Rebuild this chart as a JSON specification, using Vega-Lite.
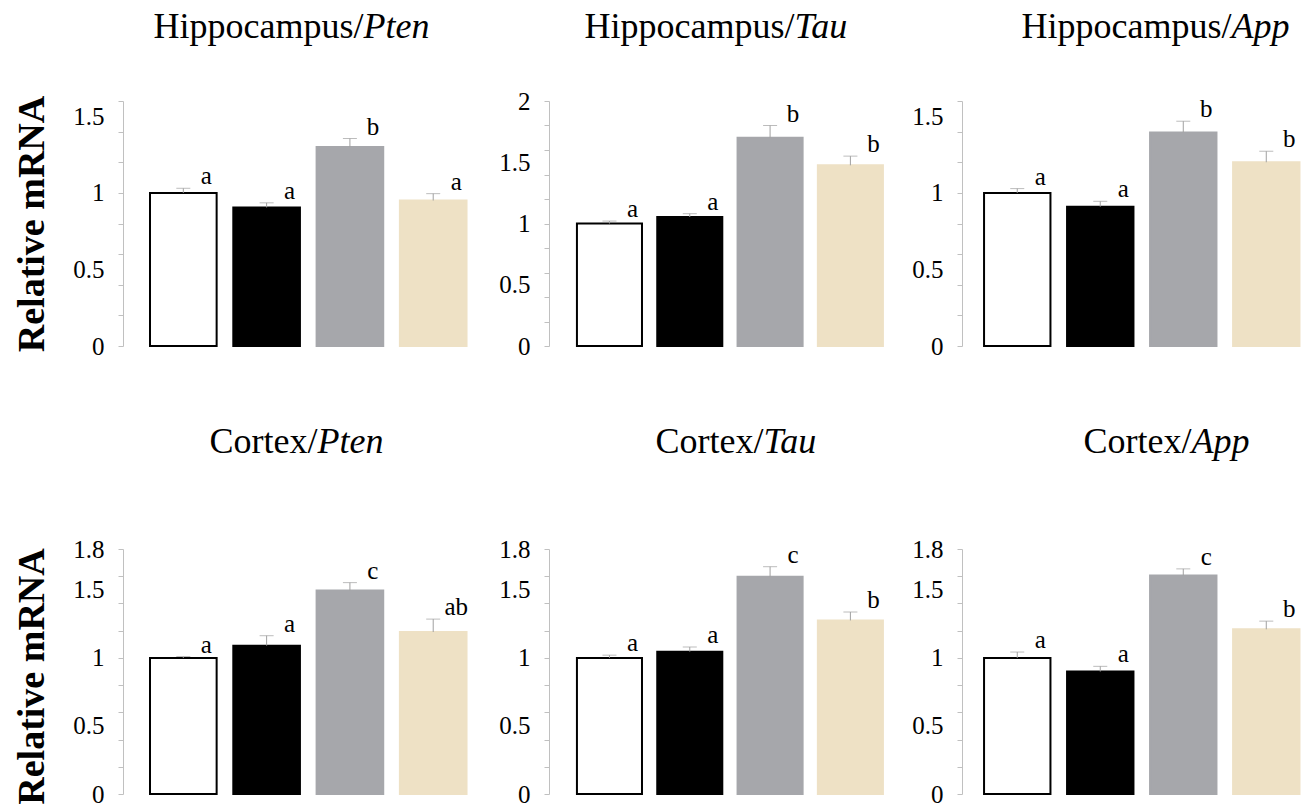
{
  "$schema": "https://vega.github.io/schema/vega-lite/v6.json",
  "background": "white",
  "padding": {"left": 12, "top": 8, "right": 0, "bottom": 0},
  "config": {
    "view": {"stroke": null},
    "axis": {"grid": false}
  },
  "data": {"values": [
    {"region": "Hippocampus", "gene": "Pten", "group": "G1", "value": 1.0, "upper": 1.03, "sig": "a"},
    {"region": "Hippocampus", "gene": "Pten", "group": "G2", "value": 0.905, "upper": 0.935, "sig": "a"},
    {"region": "Hippocampus", "gene": "Pten", "group": "G3", "value": 1.3, "upper": 1.355, "sig": "b"},
    {"region": "Hippocampus", "gene": "Pten", "group": "G4", "value": 0.95, "upper": 0.995, "sig": "a"},
    {"region": "Hippocampus", "gene": "Tau", "group": "G1", "value": 1.0, "upper": 1.02, "sig": "a"},
    {"region": "Hippocampus", "gene": "Tau", "group": "G2", "value": 1.053, "upper": 1.08, "sig": "a"},
    {"region": "Hippocampus", "gene": "Tau", "group": "G3", "value": 1.7, "upper": 1.8, "sig": "b"},
    {"region": "Hippocampus", "gene": "Tau", "group": "G4", "value": 1.475, "upper": 1.55, "sig": "b"},
    {"region": "Hippocampus", "gene": "App", "group": "G1", "value": 1.0, "upper": 1.028, "sig": "a"},
    {"region": "Hippocampus", "gene": "App", "group": "G2", "value": 0.91, "upper": 0.945, "sig": "a"},
    {"region": "Hippocampus", "gene": "App", "group": "G3", "value": 1.395, "upper": 1.468, "sig": "b"},
    {"region": "Hippocampus", "gene": "App", "group": "G4", "value": 1.2, "upper": 1.272, "sig": "b"},
    {"region": "Cortex", "gene": "Pten", "group": "G1", "value": 1.0, "upper": 1.01, "sig": "a"},
    {"region": "Cortex", "gene": "Pten", "group": "G2", "value": 1.09, "upper": 1.163, "sig": "a"},
    {"region": "Cortex", "gene": "Pten", "group": "G3", "value": 1.495, "upper": 1.553, "sig": "c"},
    {"region": "Cortex", "gene": "Pten", "group": "G4", "value": 1.19, "upper": 1.285, "sig": "ab"},
    {"region": "Cortex", "gene": "Tau", "group": "G1", "value": 1.0, "upper": 1.02, "sig": "a"},
    {"region": "Cortex", "gene": "Tau", "group": "G2", "value": 1.046, "upper": 1.08, "sig": "a"},
    {"region": "Cortex", "gene": "Tau", "group": "G3", "value": 1.597, "upper": 1.67, "sig": "c"},
    {"region": "Cortex", "gene": "Tau", "group": "G4", "value": 1.275, "upper": 1.337, "sig": "b"},
    {"region": "Cortex", "gene": "App", "group": "G1", "value": 1.0, "upper": 1.043, "sig": "a"},
    {"region": "Cortex", "gene": "App", "group": "G2", "value": 0.9, "upper": 0.938, "sig": "a"},
    {"region": "Cortex", "gene": "App", "group": "G3", "value": 1.605, "upper": 1.654, "sig": "c"},
    {"region": "Cortex", "gene": "App", "group": "G4", "value": 1.21, "upper": 1.27, "sig": "b"}
  ]},
  "columns": 3,
  "align": "each",
  "bounds": "flush",
  "spacing": {"row": 203, "column": 50},
  "concat": [
    {
      "width": 376, "height": 245,
      "transform": [{"filter": "datum.region === 'Hippocampus' && datum.gene === 'Pten'"}],
      "layer": [
        {
          "mark": {"type": "bar", "strokeWidth": 2},
          "encoding": {
            "x": {"field": "group", "type": "nominal", "sort": null, "scale": {"paddingInner": 0.2, "paddingOuter": 0.357, "align": 0.454},
              "axis": {"orient": "top", "domain": false, "ticks": false, "labels": false, "title": "Hippocampus/", "titleFont": "Liberation Serif", "titleFontSize": 36, "titleFontWeight": "normal", "titleColor": "#000000", "titleAlign": "right", "titleX": 240, "titleY": -64, "titleBaseline": "alphabetic"}},
            "y": {"field": "value", "type": "quantitative", "scale": {"domain": [0, 1.6], "nice": false, "zero": true},
              "axis": {"orient": "left", "values": [0, 0.5, 1, 1.5], "format": "~g", "domain": false, "ticks": false, "tickSize": 0, "labelFont": "Liberation Serif", "labelFontSize": 25, "labelColor": "#000000", "labelPadding": 19, "title": "Relative mRNA", "titleFont": "Liberation Serif", "titleFontSize": 38, "titleFontWeight": "bold", "titleColor": "#000000", "titleX": -80, "titleBaseline": "alphabetic", "titleAngle": -90}},
            "fill": {"field": "group", "type": "nominal", "scale": {"domain": ["G1", "G2", "G3", "G4"], "range": ["#ffffff", "#000000", "#a6a7ab", "#eee1c5"]}, "legend": null},
            "stroke": {"field": "group", "type": "nominal", "scale": {"domain": ["G1", "G2", "G3", "G4"], "range": ["#000000", "#000000", "#a6a7ab", "#eee1c5"]}, "legend": null}
          }
        },
        {
          "mark": {"type": "rule", "color": "#a0a0a0", "strokeWidth": 1},
          "encoding": {
            "x": {"field": "group", "type": "nominal", "sort": null,
              "axis": {"orient": "top", "domain": false, "ticks": false, "labels": false, "title": "Pten", "titleFont": "Liberation Serif", "titleFontSize": 36, "titleFontWeight": "normal", "titleFontStyle": "italic", "titleColor": "#000000", "titleAlign": "left", "titleX": 240, "titleY": -64, "titleBaseline": "alphabetic"}},
            "y": {"field": "value", "type": "quantitative",
              "axis": {"orient": "left", "values": [0, 0.2, 0.4, 0.6, 0.8, 1, 1.2, 1.4, 1.6], "labels": false, "domain": true, "domainColor": "#c0c0c0", "ticks": true, "tickColor": "#c0c0c0", "tickSize": 5, "title": null}},
            "y2": {"field": "upper"}
          }
        },
        {
          "mark": {"type": "tick", "orient": "horizontal", "size": 14, "thickness": 1, "color": "#a0a0a0"},
          "encoding": {
            "x": {"field": "group", "type": "nominal", "sort": null, "axis": null},
            "y": {"field": "upper", "type": "quantitative", "axis": null}
          }
        },
        {
          "mark": {"type": "text", "font": "Liberation Serif", "fontSize": 25, "dx": 23, "dy": -4, "baseline": "alphabetic", "align": "center", "color": "#000000"},
          "encoding": {
            "x": {"field": "group", "type": "nominal", "sort": null, "axis": null},
            "y": {"field": "upper", "type": "quantitative", "axis": null},
            "text": {"field": "sig"}
          }
        }
      ],
      "resolve": {"axis": {"x": "independent", "y": "independent"}}
    },
    {
      "width": 363, "height": 245,
      "transform": [{"filter": "datum.region === 'Hippocampus' && datum.gene === 'Tau'"}],
      "layer": [
        {
          "mark": {"type": "bar", "strokeWidth": 2},
          "encoding": {
            "x": {"field": "group", "type": "nominal", "sort": null, "scale": {"paddingInner": 0.19, "paddingOuter": 0.355, "align": 0.49},
              "axis": {"orient": "top", "domain": false, "ticks": false, "labels": false, "title": "Hippocampus/", "titleFont": "Liberation Serif", "titleFontSize": 36, "titleFontWeight": "normal", "titleColor": "#000000", "titleAlign": "right", "titleX": 245, "titleY": -64, "titleBaseline": "alphabetic"}},
            "y": {"field": "value", "type": "quantitative", "scale": {"domain": [0, 2], "nice": false, "zero": true},
              "axis": {"orient": "left", "values": [0, 0.5, 1, 1.5, 2], "format": "~g", "domain": false, "ticks": false, "tickSize": 0, "labelFont": "Liberation Serif", "labelFontSize": 25, "labelColor": "#000000", "labelPadding": 19, "title": null}},
            "fill": {"field": "group", "type": "nominal", "scale": {"domain": ["G1", "G2", "G3", "G4"], "range": ["#ffffff", "#000000", "#a6a7ab", "#eee1c5"]}, "legend": null},
            "stroke": {"field": "group", "type": "nominal", "scale": {"domain": ["G1", "G2", "G3", "G4"], "range": ["#000000", "#000000", "#a6a7ab", "#eee1c5"]}, "legend": null}
          }
        },
        {
          "mark": {"type": "rule", "color": "#a0a0a0", "strokeWidth": 1},
          "encoding": {
            "x": {"field": "group", "type": "nominal", "sort": null,
              "axis": {"orient": "top", "domain": false, "ticks": false, "labels": false, "title": "Tau", "titleFont": "Liberation Serif", "titleFontSize": 36, "titleFontWeight": "normal", "titleFontStyle": "italic", "titleColor": "#000000", "titleAlign": "left", "titleX": 245, "titleY": -64, "titleBaseline": "alphabetic"}},
            "y": {"field": "value", "type": "quantitative",
              "axis": {"orient": "left", "values": [0, 0.2, 0.4, 0.6, 0.8, 1, 1.2, 1.4, 1.6, 1.8, 2], "labels": false, "domain": true, "domainColor": "#c0c0c0", "ticks": true, "tickColor": "#c0c0c0", "tickSize": 5, "title": null}},
            "y2": {"field": "upper"}
          }
        },
        {
          "mark": {"type": "tick", "orient": "horizontal", "size": 14, "thickness": 1, "color": "#a0a0a0"},
          "encoding": {
            "x": {"field": "group", "type": "nominal", "sort": null, "axis": null},
            "y": {"field": "upper", "type": "quantitative", "axis": null}
          }
        },
        {
          "mark": {"type": "text", "font": "Liberation Serif", "fontSize": 25, "dx": 23, "dy": -4, "baseline": "alphabetic", "align": "center", "color": "#000000"},
          "encoding": {
            "x": {"field": "group", "type": "nominal", "sort": null, "axis": null},
            "y": {"field": "upper", "type": "quantitative", "axis": null},
            "text": {"field": "sig"}
          }
        }
      ],
      "resolve": {"axis": {"x": "independent", "y": "independent"}}
    },
    {
      "width": 342, "height": 245,
      "transform": [{"filter": "datum.region === 'Hippocampus' && datum.gene === 'App'"}],
      "layer": [
        {
          "mark": {"type": "bar", "strokeWidth": 2},
          "encoding": {
            "x": {"field": "group", "type": "nominal", "sort": null, "scale": {"paddingInner": 0.2, "paddingOuter": 0.16, "align": 0.83},
              "axis": {"orient": "top", "domain": false, "ticks": false, "labels": false, "title": "Hippocampus/", "titleFont": "Liberation Serif", "titleFontSize": 36, "titleFontWeight": "normal", "titleColor": "#000000", "titleAlign": "right", "titleX": 269, "titleY": -64, "titleBaseline": "alphabetic"}},
            "y": {"field": "value", "type": "quantitative", "scale": {"domain": [0, 1.6], "nice": false, "zero": true},
              "axis": {"orient": "left", "values": [0, 0.5, 1, 1.5], "format": "~g", "domain": false, "ticks": false, "tickSize": 0, "labelFont": "Liberation Serif", "labelFontSize": 25, "labelColor": "#000000", "labelPadding": 19, "title": null}},
            "fill": {"field": "group", "type": "nominal", "scale": {"domain": ["G1", "G2", "G3", "G4"], "range": ["#ffffff", "#000000", "#a6a7ab", "#eee1c5"]}, "legend": null},
            "stroke": {"field": "group", "type": "nominal", "scale": {"domain": ["G1", "G2", "G3", "G4"], "range": ["#000000", "#000000", "#a6a7ab", "#eee1c5"]}, "legend": null}
          }
        },
        {
          "mark": {"type": "rule", "color": "#a0a0a0", "strokeWidth": 1},
          "encoding": {
            "x": {"field": "group", "type": "nominal", "sort": null,
              "axis": {"orient": "top", "domain": false, "ticks": false, "labels": false, "title": "App", "titleFont": "Liberation Serif", "titleFontSize": 36, "titleFontWeight": "normal", "titleFontStyle": "italic", "titleColor": "#000000", "titleAlign": "left", "titleX": 269, "titleY": -64, "titleBaseline": "alphabetic"}},
            "y": {"field": "value", "type": "quantitative",
              "axis": {"orient": "left", "values": [0, 0.2, 0.4, 0.6, 0.8, 1, 1.2, 1.4, 1.6], "labels": false, "domain": true, "domainColor": "#c0c0c0", "ticks": true, "tickColor": "#c0c0c0", "tickSize": 5, "title": null}},
            "y2": {"field": "upper"}
          }
        },
        {
          "mark": {"type": "tick", "orient": "horizontal", "size": 14, "thickness": 1, "color": "#a0a0a0"},
          "encoding": {
            "x": {"field": "group", "type": "nominal", "sort": null, "axis": null},
            "y": {"field": "upper", "type": "quantitative", "axis": null}
          }
        },
        {
          "mark": {"type": "text", "font": "Liberation Serif", "fontSize": 25, "dx": 23, "dy": -4, "baseline": "alphabetic", "align": "center", "color": "#000000"},
          "encoding": {
            "x": {"field": "group", "type": "nominal", "sort": null, "axis": null},
            "y": {"field": "upper", "type": "quantitative", "axis": null},
            "text": {"field": "sig"}
          }
        }
      ],
      "resolve": {"axis": {"x": "independent", "y": "independent"}}
    },
    {
      "width": 376, "height": 245,
      "transform": [{"filter": "datum.region === 'Cortex' && datum.gene === 'Pten'"}],
      "layer": [
        {
          "mark": {"type": "bar", "strokeWidth": 2},
          "encoding": {
            "x": {"field": "group", "type": "nominal", "sort": null, "scale": {"paddingInner": 0.2, "paddingOuter": 0.357, "align": 0.454},
              "axis": {"orient": "top", "domain": false, "ticks": false, "labels": false, "title": "Cortex/", "titleFont": "Liberation Serif", "titleFontSize": 36, "titleFontWeight": "normal", "titleColor": "#000000", "titleAlign": "right", "titleX": 194, "titleY": -97, "titleBaseline": "alphabetic"}},
            "y": {"field": "value", "type": "quantitative", "scale": {"domain": [0, 1.8], "nice": false, "zero": true},
              "axis": {"orient": "left", "values": [0, 0.5, 1, 1.5, 1.8], "format": "~g", "domain": false, "ticks": false, "tickSize": 0, "labelFont": "Liberation Serif", "labelFontSize": 25, "labelColor": "#000000", "labelPadding": 19, "title": "Relative mRNA", "titleFont": "Liberation Serif", "titleFontSize": 38, "titleFontWeight": "bold", "titleColor": "#000000", "titleX": -80, "titleY": 127, "titleBaseline": "alphabetic", "titleAngle": -90}},
            "fill": {"field": "group", "type": "nominal", "scale": {"domain": ["G1", "G2", "G3", "G4"], "range": ["#ffffff", "#000000", "#a6a7ab", "#eee1c5"]}, "legend": null},
            "stroke": {"field": "group", "type": "nominal", "scale": {"domain": ["G1", "G2", "G3", "G4"], "range": ["#000000", "#000000", "#a6a7ab", "#eee1c5"]}, "legend": null}
          }
        },
        {
          "mark": {"type": "rule", "color": "#a0a0a0", "strokeWidth": 1},
          "encoding": {
            "x": {"field": "group", "type": "nominal", "sort": null,
              "axis": {"orient": "top", "domain": false, "ticks": false, "labels": false, "title": "Pten", "titleFont": "Liberation Serif", "titleFontSize": 36, "titleFontWeight": "normal", "titleFontStyle": "italic", "titleColor": "#000000", "titleAlign": "left", "titleX": 194, "titleY": -97, "titleBaseline": "alphabetic"}},
            "y": {"field": "value", "type": "quantitative",
              "axis": {"orient": "left", "values": [0, 0.2, 0.4, 0.6, 0.8, 1, 1.2, 1.4, 1.6, 1.8], "labels": false, "domain": true, "domainColor": "#c0c0c0", "ticks": true, "tickColor": "#c0c0c0", "tickSize": 5, "title": null}},
            "y2": {"field": "upper"}
          }
        },
        {
          "mark": {"type": "tick", "orient": "horizontal", "size": 14, "thickness": 1, "color": "#a0a0a0"},
          "encoding": {
            "x": {"field": "group", "type": "nominal", "sort": null, "axis": null},
            "y": {"field": "upper", "type": "quantitative", "axis": null}
          }
        },
        {
          "mark": {"type": "text", "font": "Liberation Serif", "fontSize": 25, "dx": 23, "dy": -4, "baseline": "alphabetic", "align": "center", "color": "#000000"},
          "encoding": {
            "x": {"field": "group", "type": "nominal", "sort": null, "axis": null},
            "y": {"field": "upper", "type": "quantitative", "axis": null},
            "text": {"field": "sig"}
          }
        }
      ],
      "resolve": {"axis": {"x": "independent", "y": "independent"}}
    },
    {
      "width": 363, "height": 245,
      "transform": [{"filter": "datum.region === 'Cortex' && datum.gene === 'Tau'"}],
      "layer": [
        {
          "mark": {"type": "bar", "strokeWidth": 2},
          "encoding": {
            "x": {"field": "group", "type": "nominal", "sort": null, "scale": {"paddingInner": 0.19, "paddingOuter": 0.355, "align": 0.49},
              "axis": {"orient": "top", "domain": false, "ticks": false, "labels": false, "title": "Cortex/", "titleFont": "Liberation Serif", "titleFontSize": 36, "titleFontWeight": "normal", "titleColor": "#000000", "titleAlign": "right", "titleX": 214, "titleY": -97, "titleBaseline": "alphabetic"}},
            "y": {"field": "value", "type": "quantitative", "scale": {"domain": [0, 1.8], "nice": false, "zero": true},
              "axis": {"orient": "left", "values": [0, 0.5, 1, 1.5, 1.8], "format": "~g", "domain": false, "ticks": false, "tickSize": 0, "labelFont": "Liberation Serif", "labelFontSize": 25, "labelColor": "#000000", "labelPadding": 19, "title": null}},
            "fill": {"field": "group", "type": "nominal", "scale": {"domain": ["G1", "G2", "G3", "G4"], "range": ["#ffffff", "#000000", "#a6a7ab", "#eee1c5"]}, "legend": null},
            "stroke": {"field": "group", "type": "nominal", "scale": {"domain": ["G1", "G2", "G3", "G4"], "range": ["#000000", "#000000", "#a6a7ab", "#eee1c5"]}, "legend": null}
          }
        },
        {
          "mark": {"type": "rule", "color": "#a0a0a0", "strokeWidth": 1},
          "encoding": {
            "x": {"field": "group", "type": "nominal", "sort": null,
              "axis": {"orient": "top", "domain": false, "ticks": false, "labels": false, "title": "Tau", "titleFont": "Liberation Serif", "titleFontSize": 36, "titleFontWeight": "normal", "titleFontStyle": "italic", "titleColor": "#000000", "titleAlign": "left", "titleX": 214, "titleY": -97, "titleBaseline": "alphabetic"}},
            "y": {"field": "value", "type": "quantitative",
              "axis": {"orient": "left", "values": [0, 0.2, 0.4, 0.6, 0.8, 1, 1.2, 1.4, 1.6, 1.8], "labels": false, "domain": true, "domainColor": "#c0c0c0", "ticks": true, "tickColor": "#c0c0c0", "tickSize": 5, "title": null}},
            "y2": {"field": "upper"}
          }
        },
        {
          "mark": {"type": "tick", "orient": "horizontal", "size": 14, "thickness": 1, "color": "#a0a0a0"},
          "encoding": {
            "x": {"field": "group", "type": "nominal", "sort": null, "axis": null},
            "y": {"field": "upper", "type": "quantitative", "axis": null}
          }
        },
        {
          "mark": {"type": "text", "font": "Liberation Serif", "fontSize": 25, "dx": 23, "dy": -4, "baseline": "alphabetic", "align": "center", "color": "#000000"},
          "encoding": {
            "x": {"field": "group", "type": "nominal", "sort": null, "axis": null},
            "y": {"field": "upper", "type": "quantitative", "axis": null},
            "text": {"field": "sig"}
          }
        }
      ],
      "resolve": {"axis": {"x": "independent", "y": "independent"}}
    },
    {
      "width": 342, "height": 245,
      "transform": [{"filter": "datum.region === 'Cortex' && datum.gene === 'App'"}],
      "layer": [
        {
          "mark": {"type": "bar", "strokeWidth": 2},
          "encoding": {
            "x": {"field": "group", "type": "nominal", "sort": null, "scale": {"paddingInner": 0.2, "paddingOuter": 0.16, "align": 0.83},
              "axis": {"orient": "top", "domain": false, "ticks": false, "labels": false, "title": "Cortex/", "titleFont": "Liberation Serif", "titleFontSize": 36, "titleFontWeight": "normal", "titleColor": "#000000", "titleAlign": "right", "titleX": 229, "titleY": -97, "titleBaseline": "alphabetic"}},
            "y": {"field": "value", "type": "quantitative", "scale": {"domain": [0, 1.8], "nice": false, "zero": true},
              "axis": {"orient": "left", "values": [0, 0.5, 1, 1.5, 1.8], "format": "~g", "domain": false, "ticks": false, "tickSize": 0, "labelFont": "Liberation Serif", "labelFontSize": 25, "labelColor": "#000000", "labelPadding": 19, "title": null}},
            "fill": {"field": "group", "type": "nominal", "scale": {"domain": ["G1", "G2", "G3", "G4"], "range": ["#ffffff", "#000000", "#a6a7ab", "#eee1c5"]}, "legend": null},
            "stroke": {"field": "group", "type": "nominal", "scale": {"domain": ["G1", "G2", "G3", "G4"], "range": ["#000000", "#000000", "#a6a7ab", "#eee1c5"]}, "legend": null}
          }
        },
        {
          "mark": {"type": "rule", "color": "#a0a0a0", "strokeWidth": 1},
          "encoding": {
            "x": {"field": "group", "type": "nominal", "sort": null,
              "axis": {"orient": "top", "domain": false, "ticks": false, "labels": false, "title": "App", "titleFont": "Liberation Serif", "titleFontSize": 36, "titleFontWeight": "normal", "titleFontStyle": "italic", "titleColor": "#000000", "titleAlign": "left", "titleX": 229, "titleY": -97, "titleBaseline": "alphabetic"}},
            "y": {"field": "value", "type": "quantitative",
              "axis": {"orient": "left", "values": [0, 0.2, 0.4, 0.6, 0.8, 1, 1.2, 1.4, 1.6, 1.8], "labels": false, "domain": true, "domainColor": "#c0c0c0", "ticks": true, "tickColor": "#c0c0c0", "tickSize": 5, "title": null}},
            "y2": {"field": "upper"}
          }
        },
        {
          "mark": {"type": "tick", "orient": "horizontal", "size": 14, "thickness": 1, "color": "#a0a0a0"},
          "encoding": {
            "x": {"field": "group", "type": "nominal", "sort": null, "axis": null},
            "y": {"field": "upper", "type": "quantitative", "axis": null}
          }
        },
        {
          "mark": {"type": "text", "font": "Liberation Serif", "fontSize": 25, "dx": 23, "dy": -4, "baseline": "alphabetic", "align": "center", "color": "#000000"},
          "encoding": {
            "x": {"field": "group", "type": "nominal", "sort": null, "axis": null},
            "y": {"field": "upper", "type": "quantitative", "axis": null},
            "text": {"field": "sig"}
          }
        }
      ],
      "resolve": {"axis": {"x": "independent", "y": "independent"}}
    }
  ]
}
